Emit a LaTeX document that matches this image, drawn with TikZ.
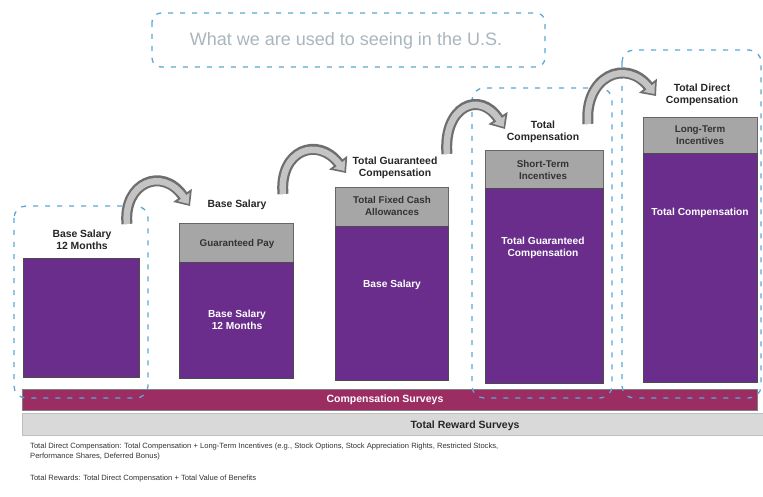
\documentclass[tikz,border=0pt]{standalone}
\usepackage{fontspec}
\setmainfont{Liberation Sans}
\usetikzlibrary{arrows.meta}
\definecolor{barpurple}{HTML}{6A2D8C}
\definecolor{topgray}{HTML}{A6A6A6}
\definecolor{survmag}{HTML}{9B2D63}
\definecolor{rewardgray}{HTML}{D9D9D9}
\definecolor{dashblue}{HTML}{5AA8D8}
\definecolor{arrowdark}{HTML}{6E6E6E}
\definecolor{arrowlight}{HTML}{C4C4C4}
\definecolor{titlegray}{HTML}{A9B6BF}
\tikzset{
  purplebar/.style={fill=barpurple, draw=black!70, line width=0.7pt, anchor=north west, inner sep=0pt},
  graybar/.style={fill=topgray, draw=black!60, line width=0.7pt, anchor=north west, inner sep=0pt},
  headtext/.style={font=\bfseries\fontsize{10.4}{11.8}\selectfont, align=center, text=black!85},
  graytext/.style={font=\bfseries\fontsize{9.8}{11.5}\selectfont, align=center, text=black!80},
  whitetext/.style={font=\bfseries\fontsize{10.2}{11.6}\selectfont, align=center, text=white},
  dashbox/.style={draw=dashblue, line width=1.3pt, dash pattern=on 5pt off 7pt, rounded corners=12pt},
  arrowouter/.style={draw=arrowdark, line width=11pt, -{Triangle[width=22pt,length=13pt]}},
  arrowinner/.style={draw=arrowlight, line width=6.5pt, shorten >=2.5pt, -{Triangle[width=14pt,length=8.5pt]}},
  note/.style={font=\fontsize{7.6}{9}\selectfont, text=black!80, anchor=west, inner sep=0pt}
}
\begin{document}
\begin{tikzpicture}[x=1pt,y=-1pt]
\useasboundingbox (0,0) rectangle (763,497);
\fill[white] (0,0) rectangle (763,497);

% heading in a dashed frame
\draw[dashbox, rounded corners=9pt] (152,13) rectangle (545,67);
\node[font=\fontsize{18}{20}\selectfont, text=titlegray] (title) at (346,41) {What we are used to seeing in the U.S.};

% survey bands
\node[fill=rewardgray, draw=black!25, line width=0.4pt, anchor=north west, inner sep=0pt,
      minimum width=741pt, minimum height=22pt] (reward) at (22,413) {};
\node[font=\bfseries\fontsize{10.5}{12}\selectfont, text=black!85] (rewardtxt) at (465,426) {Total Reward Surveys};
\node[fill=survmag, draw=black!50, line width=0.5pt, anchor=north west, inner sep=0pt,
      minimum width=735pt, minimum height=21pt] (comp) at (22,389) {};
\node[font=\bfseries\fontsize{10.5}{12}\selectfont, text=white] (comptxt) at (385,400) {Compensation Surveys};

% column 1
\node[purplebar, minimum width=116pt, minimum height=119pt] (p1) at (23,258) {};
\node[headtext] (h1) at (82,240) {Base Salary\\12 Months};

% column 2
\node[graybar, minimum width=114pt, minimum height=39pt] (g2) at (179,223) {};
\node[purplebar, minimum width=114pt, minimum height=116pt] (p2) at (179,262) {};
\node[headtext] (h2) at (237,205) {Base Salary};
\node[graytext] (t2) at (237,244) {Guaranteed Pay};
\node[whitetext] (w2) at (237,320) {Base Salary\\12 Months};

% column 3
\node[graybar, minimum width=113pt, minimum height=39pt] (g3) at (335,187) {};
\node[purplebar, minimum width=113pt, minimum height=154pt] (p3) at (335,226) {};
\node[headtext] (h3) at (395,168) {Total Guaranteed\\Compensation};
\node[graytext] (t3) at (392,206) {Total Fixed Cash\\Allowances};
\node[whitetext] (w3) at (392,285) {Base Salary};

% column 4
\node[graybar, minimum width=118pt, minimum height=38pt] (g4) at (485,150) {};
\node[purplebar, minimum width=118pt, minimum height=195pt] (p4) at (485,188) {};
\node[headtext] (h4) at (543,132) {Total\\Compensation};
\node[graytext] (t4) at (543,170) {Short-Term\\Incentives};
\node[whitetext] (w4) at (543,248) {Total Guaranteed\\Compensation};

% column 5
\node[graybar, minimum width=114pt, minimum height=36pt] (g5) at (643,117) {};
\node[purplebar, minimum width=114pt, minimum height=229pt] (p5) at (643,153) {};
\node[headtext] (h5) at (702,95) {Total Direct\\Compensation};
\node[graytext] (t5) at (700,135) {Long-Term\\Incentives};
\node[whitetext] (w5) at (700,213) {Total Compensation};

% dashed frames around the survey scopes
\draw[dashbox] (14,206) rectangle (148,398);
\draw[dashbox] (472,88) rectangle (612,398);
\draw[dashbox] (622,50) rectangle (761,398);

% curved step arrows
\coordinate (a1s) at (127,224); \coordinate (a1e) at (190,206);
\coordinate (a2s) at (283,194); \coordinate (a2e) at (346,173);
\coordinate (a3s) at (447,154); \coordinate (a3e) at (505,129);
\coordinate (a4s) at (588,124); \coordinate (a4e) at (656,96);
\foreach \s/\e/\ca/\cb in {a1s/a1e/{(123,183)}/{(162,166)},
                           a2s/a2e/{(279,150)}/{(318,136)},
                           a3s/a3e/{(443,106)}/{(480,90)},
                           a4s/a4e/{(584,76)}/{(626,58)}}{
  \draw[arrowouter] (\s) .. controls \ca and \cb .. (\e);
  \draw[arrowinner] (\s) .. controls \ca and \cb .. (\e);
}

% notes
\node[note] (n1) at (30,447) {Total Direct Compensation: Total Compensation + Long-Term Incentives (e.g., Stock Options, Stock Appreciation Rights, Restricted Stocks,};
\node[note] (n2) at (30,457) {Performance Shares, Deferred Bonus)};
\node[note] (n3) at (30,479) {Total Rewards: Total Direct Compensation + Total Value of Benefits};
\end{tikzpicture}
\end{document}
